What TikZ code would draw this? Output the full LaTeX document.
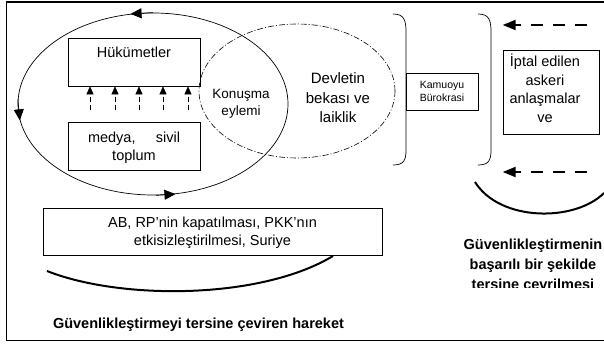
\documentclass[tikz,border=0pt]{standalone}
\usepackage{fontspec}
\setmainfont{Liberation Sans}
\usetikzlibrary{arrows.meta,shapes.geometric}
\begin{document}
\begin{tikzpicture}[x=1pt,y=-1pt,
  boxst/.style={draw,line width=0.7pt,rectangle,inner sep=0},
  ell/.style={draw,ellipse,inner sep=0,line width=0.7pt},
  ddot/.style={draw,ellipse,inner sep=0,line width=0.6pt,dash pattern=on 6pt off 2pt on 1pt off 2pt},
  tn/.style={align=center,inner sep=0,font=\fontsize{14.5}{18.5}\selectfont},
  tk/.style={align=center,inner sep=0,font=\fontsize{13.5}{17}\selectfont},
  td/.style={align=center,inner sep=0,font=\fontsize{15}{19.5}\selectfont},
  ts/.style={align=center,inner sep=0,font=\fontsize{10.5}{13.5}\selectfont},
  tb/.style={align=center,inner sep=0,font=\fontsize{14.5}{20}\selectfont\bfseries},
  bigarr/.style={line width=0.7pt,-{Triangle[length=11pt,width=10pt]}},
  smallarr/.style={line width=0.6pt,dash pattern=on 5pt off 3pt,-{Triangle[length=8pt,width=7pt]}},
  dasharr/.style={line width=2pt,dash pattern=on 12pt off 10pt,-{Triangle[length=13pt,width=10pt]}},
  brack/.style={line width=0.7pt},
  thick arc/.style={line width=2pt}
]
\useasboundingbox (0,0) rectangle (604,344);
% frame
\draw[line width=2pt] (6,2) -- (604,2);
\draw[line width=1pt] (6,2) -- (6,340) -- (604,340);

% ellipses
\node[ell, minimum width=270pt, minimum height=182pt] (big) at (153,104) {};
\node[ddot, minimum width=196pt, minimum height=134pt] (dd) at (297,91) {};
\draw[bigarr] (big.90) -- (big.104);
\draw[bigarr] (big.178) -- (big.187);
\draw[bigarr] (big.272) -- (big.284);

% left boxes
\node[boxst, minimum width=132pt, minimum height=48pt] (huk) at (134,62) {};
\node[tn] (hukt) at (134,52) {Hükümetler};
\node[boxst, minimum width=132pt, minimum height=48pt] (med) at (134,146) {};
\node[tn] (medt) at (134,148) {\makebox[92pt]{medya,\hfill sivil}\\toplum};
\foreach \x in {90,115,139,163,188}
  \draw[smallarr] (\x,110) -- (huk.south -| \x,0);

\node[tk] (kon) at (241,104) {Konuşma\\eylemi};
\node[td] (dev) at (338,98) {Devletin\\bekası ve\\laiklik};

% brackets and Kamuoyu
\node[boxst, minimum width=72pt, minimum height=37pt] (kam) at (442,91.5) {};
\node[ts] (kamt) at (kam) {Kamuoyu\\Bürokrasi};
\draw[brack] (393,14) .. controls (404,14) and (406,20) .. (406,32) -- (406,150) .. controls (406,160) and (404,165) .. (393,165);
\draw[brack] (478,14) .. controls (489,14) and (491,20) .. (491,32) -- (491,150) .. controls (491,160) and (489,165) .. (478,165);

% right box
\node[boxst, minimum width=96pt, minimum height=84pt] (ipt) at (551,92) {};
\node[tn, anchor=north] (iptt) at (545,54) {İptal edilen\\askeri\\anlaşmalar\\ve};
\coordinate (ra) at (587,25);
\coordinate (rb) at (587,172);
\draw[dasharr] (ra) -- (ipt.west |- ra);
\draw[dasharr] (rb) -- (ipt.west |- rb);

% bottom
\node[boxst, minimum width=339pt, minimum height=47pt] (ab) at (212.5,231.5) {};
\node[tn] (abt) at (212.5,233) {AB, RP’nin kapatılması, PKK’nın\\etkisizleştirilmesi, Suriye};
\draw[thick arc] (47,271) .. controls (120,300) and (260,300) .. (333,256);
\draw[thick arc] (475,182) .. controls (500,222) and (575,222) .. (604,193);
\node[tb, anchor=base] (bot) at (198.5,328) {Güvenlikleştirmeyi tersine çeviren hareket};
\begin{scope}
\clip (430,225) rectangle (604,287);
\node[tb] (rt) at (533,266) {Güvenlikleştirmenin\\başarılı bir şekilde\\tersine çevrilmesi};
\end{scope}
\end{tikzpicture}
\end{document}
